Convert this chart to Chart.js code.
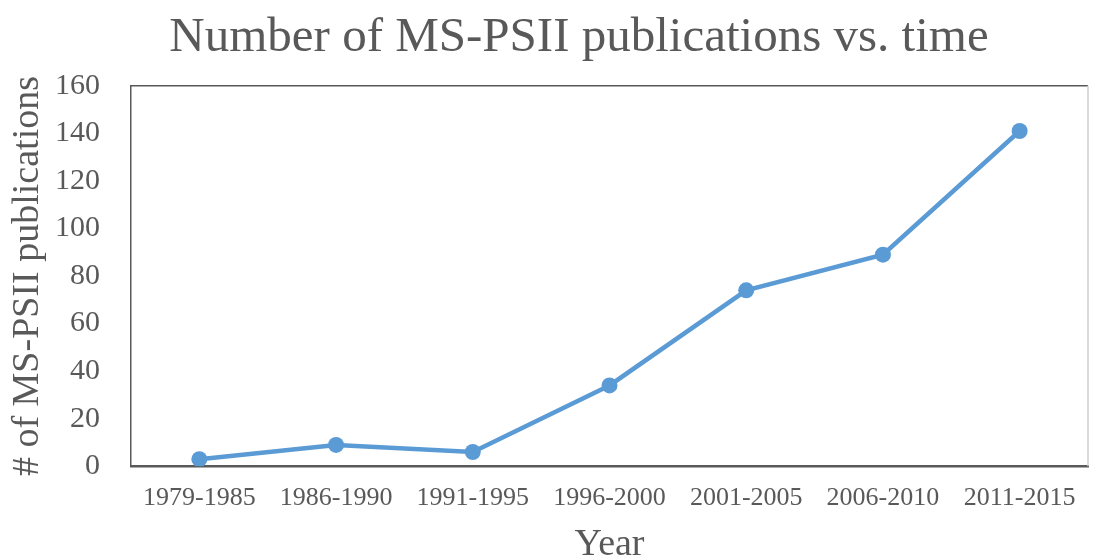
<!DOCTYPE html>
<html>
<head>
<meta charset="utf-8">
<script src="https://cdn.jsdelivr.net/npm/chart.js@4/dist/chart.umd.min.js"></script>
<style>
  html, body { margin: 0; padding: 0; background: #ffffff; }
  #wrap { width: 1096px; height: 559px; position: relative; }
</style>
</head>
<body>
<div id="wrap"><canvas id="pubChart"></canvas></div>
<script>
const PERIODS = ['1979-1985', '1986-1990', '1991-1995', '1996-2000', '2001-2005', '2006-2010', '2011-2015'];
const PUBLICATIONS = [3, 9, 6, 34, 74, 89, 141];

const Y_MIN = 0;
const Y_MAX = 160;
const Y_STEP = 20;

const SERIF = "'Liberation Serif', 'Times New Roman', serif";
const TEXT_GRAY = '#595959';
const LINE_BLUE = '#5B9BD5';

// closes the plot box on the top and right sides,
// and nudges the title block so its text sits a bit left of the plot centre
const frame = {
  id: 'frame',
  afterLayout(chart) {
    if (chart.titleBlock) chart.titleBlock.left = 63;
  },
  afterDraw(chart) {
    const { ctx, chartArea: a } = chart;
    ctx.save();
    ctx.strokeStyle = TEXT_GRAY;
    ctx.lineWidth = 1.5;
    ctx.beginPath();
    ctx.moveTo(a.left, a.top);
    ctx.lineTo(a.right, a.top);
    ctx.stroke();
    ctx.strokeStyle = '#cfcfcf';
    ctx.beginPath();
    ctx.moveTo(a.right, a.top);
    ctx.lineTo(a.right, a.bottom);
    ctx.stroke();
    ctx.restore();
  }
};

new Chart(document.getElementById('pubChart'), {
  type: 'line',
  data: {
    labels: PERIODS,
    datasets: [{
      label: '# of MS-PSII publications',
      data: PUBLICATIONS,
      borderColor: LINE_BLUE,
      backgroundColor: LINE_BLUE,
      borderWidth: 4.5,
      pointRadius: 8,
      pointBackgroundColor: LINE_BLUE,
      pointBorderWidth: 0,
      tension: 0
    }]
  },
  options: {
    responsive: true,
    maintainAspectRatio: false,
    animation: false,
    layout: { padding: { top: 9, right: 1, bottom: 0, left: 3 } },
    plugins: {
      legend: { display: false },
      tooltip: { enabled: false },
      title: {
        display: true,
        text: 'Number of MS-PSII publications vs. time',
        color: TEXT_GRAY,
        font: { family: SERIF, size: 49, weight: 'normal' },
        padding: { top: 0, bottom: 18 }
      }
    },
    scales: {
      x: {
        offset: true,
        grid: { display: false },
        border: { display: true, color: TEXT_GRAY, width: 2.5 },
        ticks: {
          color: TEXT_GRAY,
          font: { family: SERIF, size: 26 },
          padding: 8,
          maxRotation: 0,
          autoSkip: false
        },
        title: {
          display: true,
          text: 'Year',
          color: TEXT_GRAY,
          font: { family: SERIF, size: 38, lineHeight: 0.75 },
          padding: { top: 9, bottom: 0 }
        }
      },
      y: {
        min: Y_MIN,
        max: Y_MAX,
        grid: { display: false },
        border: { display: true, color: TEXT_GRAY, width: 1.5 },
        afterFit(scale) { scale.width = 128; },
        ticks: {
          stepSize: Y_STEP,
          color: TEXT_GRAY,
          font: { family: SERIF, size: 30 },
          padding: 23
        },
        title: {
          display: true,
          text: '# of MS-PSII publications',
          color: TEXT_GRAY,
          font: { family: SERIF, size: 38 },
          padding: { top: 2, bottom: 4 }
        }
      }
    }
  },
  plugins: [frame]
});
</script>
</body>
</html>
